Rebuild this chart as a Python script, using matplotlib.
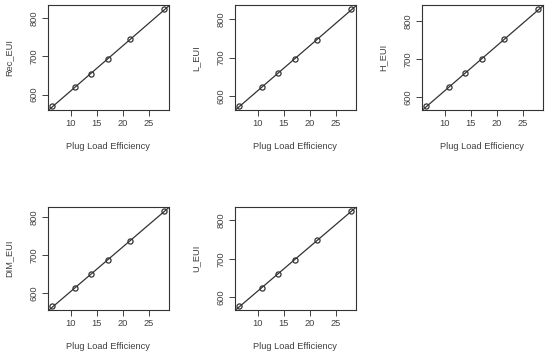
import numpy as np
import matplotlib
matplotlib.use("Agg")
import matplotlib.pyplot as plt

plt.rcParams["font.family"] = ["Liberation Sans", "DejaVu Sans"]

plug_load = [6.5, 10.8, 14.0, 17.2, 21.5, 28.0]
rec_eui = [570, 619, 655, 692, 745, 823]
l_eui = [574, 623, 660, 697, 747, 826]
h_eui = [577, 626, 663, 700, 751, 830]
dim_eui = [566, 613, 649, 686, 738, 817]
u_eui = [577, 625, 661, 697, 748, 826]

series = [("Rec_EUI", rec_eui), ("L_EUI", l_eui), ("H_EUI", h_eui),
          ("DIM_EUI", dim_eui), ("U_EUI", u_eui)]

fig = plt.figure(figsize=(5.5, 3.57), dpi=100)
lefts = [0.087, 0.427, 0.767]
rows = [(0.692, 0.293), (0.132, 0.289)]
txt = "#404040"

for i, (name, y) in enumerate(series):
    r, c = divmod(i, 3)
    ax = fig.add_axes([lefts[c], rows[r][0], 0.22, rows[r][1]])
    x = np.array(plug_load)
    y = np.array(y)
    ax.plot(x, y, "o", mfc="none", mec="#333333", ms=3.7, mew=0.9)
    k, b = np.polyfit(x, y, 1)
    ax.axline((0, b), slope=k, color="#333333", lw=0.9)
    # R style 4% padding
    xr = x.max() - x.min()
    yr = y.max() - y.min()
    ax.set_xlim(x.min() - 0.04 * xr, x.max() + 0.04 * xr)
    ax.set_ylim(y.min() - 0.04 * yr, y.max() + 0.04 * yr)
    ax.set_xticks([10, 15, 20, 25])
    ax.set_yticks([600, 700, 800])
    ax.tick_params(labelsize=6.7, colors=txt, length=4.5, width=0.7, pad=2)
    for lab in ax.get_yticklabels():
        lab.set_rotation(90)
        lab.set_va("center")
    for s in ax.spines.values():
        s.set_color("#333333")
        s.set_linewidth(0.8)
    ax.set_xlabel("Plug Load Efficiency", fontsize=6.7, color=txt, labelpad=10)
    ax.set_ylabel(name, fontsize=6.7, color=txt, labelpad=12)

plt.savefig("out.png", dpi=100)
